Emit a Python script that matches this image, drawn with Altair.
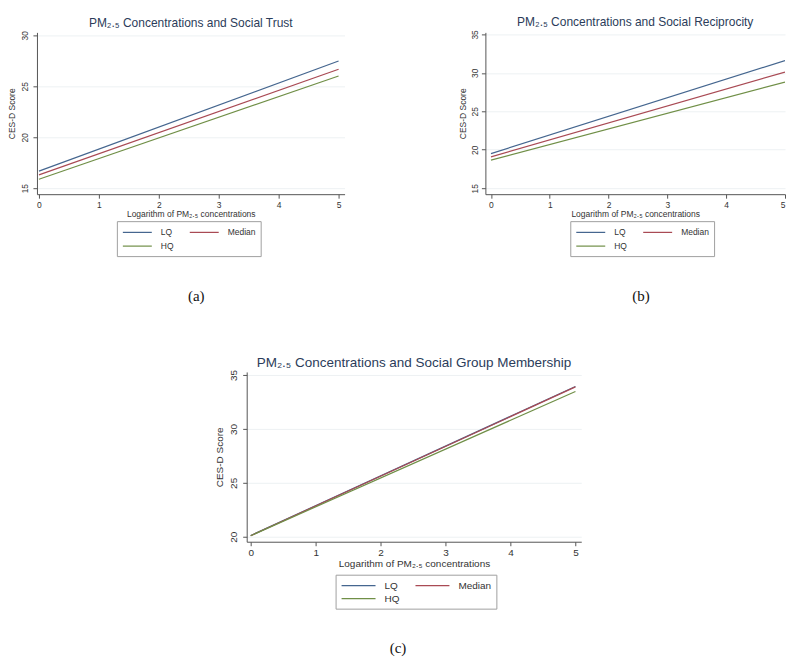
import altair as alt
import pandas as pd

# ---------------- data ----------------
x_vals = [0, 5]
groups = ["LQ", "Median", "HQ"]
colors = ["#45668f", "#a94a54", "#708f47"]

trust_lq = [16.67, 27.48]
trust_med = [16.31, 26.67]
trust_hq = [15.88, 26.01]

recip_lq = [19.50, 31.60]
recip_med = [19.07, 30.10]
recip_hq = [18.64, 28.80]

member_lq = [20.12, 33.93]
member_med = [20.10, 33.90]
member_hq = [20.10, 33.47]

x_ticks = [0, 1, 2, 3, 4, 5]
y_ticks_a = [15, 20, 25, 30]
y_ticks_b = [15, 20, 25, 30, 35]
y_ticks_c = [20, 25, 30, 35]

titles = [
    "PM\u2082.\u2085 Concentrations and Social Trust",
    "PM\u2082.\u2085 Concentrations and Social Reciprocity",
    "PM\u2082.\u2085 Concentrations and Social Group Membership",
]
x_title = "Logarithm of PM\u2082.\u2085  concentrations"
y_title = "CES-D Score"
captions = ["(a)", "(b)", "(c)"]

FONT = "Liberation Sans"
SERIF = "Liberation Serif"


def frame(lq, med, hq):
    rows = []
    for g, vals in zip(groups, [lq, med, hq]):
        for x, y in zip(x_vals, vals):
            rows.append({"x": x, "y": y, "g": g})
    return pd.DataFrame(rows)


def panel(df, title, xdom, ydom, yticks, w, h, fs, tfs, toff, legx, legy, symw,
          lab_pad, tit_pad, rowpad, flush=False):
    s = 10.0
    k = 2.0 * symw / s - 1.0
    xaxis = dict(values=x_ticks, title=x_title, grid=False, labelFontSize=fs,
                 titleFontSize=fs, tickSize=4, labelPadding=2, titlePadding=1,
                 format="d")
    if flush:
        xaxis["labelFlush"] = 1
    return alt.Chart(df).mark_line(strokeWidth=1.2, clip=True).encode(
        x=alt.X("x:Q", scale=alt.Scale(domain=xdom, nice=False, zero=False),
                axis=alt.Axis(**xaxis)),
        y=alt.Y("y:Q", scale=alt.Scale(domain=ydom, nice=False, zero=False),
                axis=alt.Axis(values=yticks, title=y_title, grid=True,
                              gridColor="#edf1f3", labelAngle=270,
                              labelAlign="center", labelBaseline="bottom",
                              labelFontSize=fs, titleFontSize=fs, tickSize=4,
                              labelPadding=lab_pad, titlePadding=tit_pad)),
        color=alt.Color("g:N", scale=alt.Scale(domain=groups, range=colors),
                        legend=alt.Legend(title=None, orient="none",
                                          legendX=legx, legendY=legy,
                                          direction="horizontal", columns=2,
                                          symbolType=f"M-1,0H{k:.2f}",
                                          symbolSize=s * s,
                                          symbolStrokeWidth=1.2,
                                          labelFontSize=fs, labelFont=FONT,
                                          labelColor="#333",
                                          strokeColor="#a0a0a0",
                                          fillColor="white", padding=5,
                                          columnPadding=13, rowPadding=rowpad,
                                          labelOffset=symw - s + 8)),
    ).properties(
        width=w, height=h,
        title=alt.Title(title, fontSize=tfs, font=FONT, color="#2b3c5a",
                        fontWeight="normal", offset=toff),
    )


pa = panel(frame(trust_lq, trust_med, trust_hq), titles[0],
           [-0.033, 5.1], [14.41, 30.29], y_ticks_a, 308, 162, 8.5, 12, 1,
           80, 189, 29, 3, 4, 3)
pb = panel(frame(recip_lq, recip_med, recip_hq), titles[1],
           [-0.095, 5.0], [14.22, 35.26], y_ticks_b, 300, 162, 8.5, 12, 1,
           85, 189, 29, 2, 3, 3, flush=True)
pc = panel(frame(member_lq, member_med, member_hq), titles[2],
           [-0.062, 5.09], [19.54, 35.28], y_ticks_c, 335, 170, 10, 13.5, 0,
           89, 203, 34, 4, 4, 2)


def caption(ch, text, dx):
    return alt.vconcat(ch, title=alt.Title(text, orient="bottom", offset=32,
                                           font=SERIF, fontSize=15,
                                           fontWeight="normal", color="#111",
                                           anchor="middle", dx=dx)
                       ).resolve_scale(color="independent").resolve_legend(color="independent")


spacer = alt.Chart(pd.DataFrame({"v": [0]})).mark_point(opacity=0).encode(
    x=alt.value(0), y=alt.value(0)
).properties(width=177, height=1)

top = alt.hconcat(caption(pa, captions[0], 20), caption(pb, captions[1], 19),
                  spacing=114).resolve_scale(color="independent").resolve_legend(color="independent")
bottom = alt.hconcat(spacer, caption(pc, captions[2], 0), spacing=0
                     ).resolve_scale(color="independent").resolve_legend(color="independent")

chart = alt.vconcat(top, bottom, spacing=51).resolve_scale(
    color="independent").resolve_legend(color="independent").properties(
    padding={"left": 0, "top": 7, "right": 0, "bottom": 0}
).configure_view(stroke=None).configure_axis(
    domainColor="#555", tickColor="#555", labelColor="#333", titleColor="#333",
    labelFont=FONT, titleFont=FONT, titleFontWeight="normal"
).configure_concat(spacing=0)

chart.save("out.html", embed_options={"renderer": "svg", "actions": False})
